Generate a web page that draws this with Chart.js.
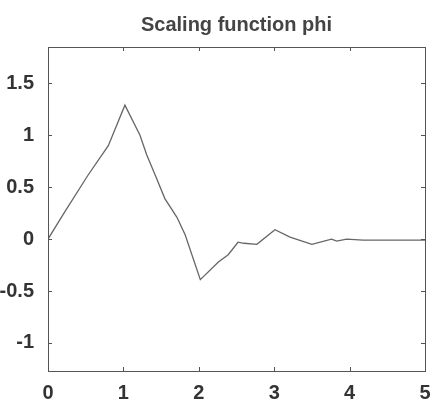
<!DOCTYPE html>
<html>
<head>
<meta charset="utf-8">
<script src="https://cdn.jsdelivr.net/npm/chart.js@4/dist/chart.umd.min.js"></script>
<style>
  html, body { margin: 0; padding: 0; background: #fff; }
  canvas { display: block; }
</style>
</head>
<body>
<canvas id="phiChart" width="433" height="405"></canvas>
<script>
// values
const xValues = [0, 0.22, 0.53, 0.80, 1.02, 1.22, 1.31, 1.42, 1.55, 1.71, 1.82, 2.02,
                 2.26, 2.39, 2.52, 2.60, 2.77, 3.01, 3.21, 3.50, 3.76, 3.83, 3.96, 4.18, 5];
const phiValues = [0, 0.26, 0.615, 0.90, 1.29, 1.0, 0.81, 0.62, 0.39, 0.21, 0.04, -0.39,
                   -0.22, -0.15, -0.03, -0.04, -0.05, 0.09, 0.02, -0.05, 0, -0.02, 0, -0.01, -0.01];
const xTicks = [0, 1, 2, 3, 4, 5];
const yTicks = [-1, -0.5, 0, 0.5, 1, 1.5];

const fontFamily = "'Liberation Sans', Arial, sans-serif";

const points = xValues.map((x, i) => ({ x: x, y: phiValues[i] }));

// box round the plot with small ticks pointing inwards, like the original
const boxTicks = {
    id: "boxTicks",
    afterDraw(chart) {
        const ctx = chart.ctx;
        const a = chart.chartArea;
        const xs = chart.scales.x, ys = chart.scales.y;
        ctx.save();
        ctx.strokeStyle = "#555";
        ctx.lineWidth = 1;
        ctx.strokeRect(Math.round(a.left) + 0.5, Math.round(a.top) + 0.5,
                       Math.round(a.right - a.left), Math.round(a.bottom - a.top));
        ctx.beginPath();
        xTicks.forEach(v => {
            const px = Math.round(xs.getPixelForValue(v)) + 0.5;
            ctx.moveTo(px, a.bottom); ctx.lineTo(px, a.bottom - 4);
            ctx.moveTo(px, a.top); ctx.lineTo(px, a.top + 4);
        });
        yTicks.forEach(v => {
            const py = Math.round(ys.getPixelForValue(v)) + 0.5;
            ctx.moveTo(a.left, py); ctx.lineTo(a.left + 4, py);
            ctx.moveTo(a.right, py); ctx.lineTo(a.right - 4, py);
        });
        ctx.stroke();
        ctx.restore();
    }
};

new Chart(document.getElementById("phiChart"), {
    type: "line",
    data: {
        datasets: [{
            data: points,
            borderColor: "#666",
            borderWidth: 1.3,
            pointRadius: 0,
            tension: 0,
            fill: false
        }]
    },
    options: {
        responsive: false,
        animation: false,
        devicePixelRatio: 1,
        layout: { padding: { left: 0, right: 8, top: 2, bottom: 0 } },
        plugins: {
            legend: { display: false },
            tooltip: { enabled: false },
            title: {
                display: true,
                text: "Scaling function phi",
                fullSize: false,
                color: "#444",
                font: { family: fontFamily, size: 20, weight: "bold", lineHeight: 1.2 },
                padding: { top: 11, bottom: 10 }
            }
        },
        scales: {
            x: {
                type: "linear",
                min: 0,
                max: 5,
                grid: { display: false },
                border: { display: false },
                afterBuildTicks: s => { s.ticks = xTicks.map(v => ({ value: v })); },
                afterFit: s => { s.height = 34; s.paddingLeft = 0; s.paddingRight = 0; },
                ticks: {
                    color: "#333",
                    padding: 2,
                    maxRotation: 0,
                    callback: v => String(v),
                    font: { family: fontFamily, size: 20, weight: "bold" }
                }
            },
            y: {
                min: -1.27,
                max: 1.85,
                grid: { display: false },
                border: { display: false },
                afterBuildTicks: s => { s.ticks = yTicks.map(v => ({ value: v })); },
                afterFit: s => { s.width = 48; s.paddingTop = 0; s.paddingBottom = 0; },
                ticks: {
                    color: "#333",
                    padding: 6,
                    callback: v => String(v),
                    font: { family: fontFamily, size: 20, weight: "bold" }
                }
            }
        }
    },
    plugins: [boxTicks]
});
</script>
</body>
</html>
